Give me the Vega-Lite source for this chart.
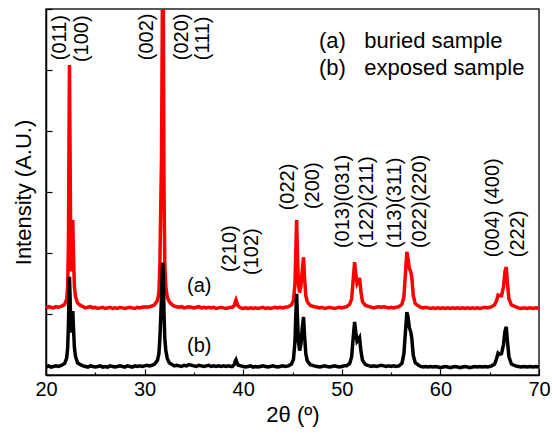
{
  "$schema": "https://vega.github.io/schema/vega-lite/v6.json",
  "width": 493,
  "height": 366,
  "autosize": "none",
  "padding": {"left": 46, "top": 9, "right": 13, "bottom": 62},
  "config": {
    "view": {"stroke": "#222", "strokeWidth": 1.5},
    "font": "Liberation Sans",
    "axis": {"grid": false, "domainColor": "#000", "domainWidth": 1.5, "tickColor": "#000", "tickWidth": 1.2, "labelColor": "#000", "titleColor": "#000", "titleFontWeight": "normal", "labelFont": "Liberation Sans", "titleFont": "Liberation Sans"}
  },
  "datasets": {
    "xrd": [
      {"x": 20.0, "a": 1.10, "b": 0.13}, {"x": 20.25, "a": 1.12, "b": 0.15}, {"x": 20.5, "a": 1.11, "b": 0.13}, {"x": 20.75, "a": 1.10, "b": 0.14}, {"x": 21.0, "a": 1.12, "b": 0.15}, {"x": 21.25, "a": 1.11, "b": 0.14},
      {"x": 21.6, "a": 1.13, "b": 0.16}, {"x": 21.9, "a": 1.16, "b": 0.19}, {"x": 22.1, "a": 1.25, "b": 0.28}, {"x": 22.2, "a": 1.45, "b": 0.45}, {"x": 22.28, "a": 2.2, "b": 0.85}, {"x": 22.33, "a": 3.8, "b": 1.3}, {"x": 22.38, "a": 5.08, "b": 1.61}, {"x": 22.43, "a": 3.9, "b": 1.35}, {"x": 22.5, "a": 2.3, "b": 0.9}, {"x": 22.58, "a": 1.7, "b": 0.7}, {"x": 22.65, "a": 1.8, "b": 0.75}, {"x": 22.72, "a": 2.54, "b": 1.05}, {"x": 22.78, "a": 2.0, "b": 0.8}, {"x": 22.88, "a": 1.45, "b": 0.45}, {"x": 23.0, "a": 1.28, "b": 0.3}, {"x": 23.2, "a": 1.18, "b": 0.2}, {"x": 23.5, "a": 1.14, "b": 0.17},
      {"x": 23.75, "a": 1.12, "b": 0.15}, {"x": 24.0, "a": 1.10, "b": 0.14}, {"x": 24.25, "a": 1.11, "b": 0.13}, {"x": 24.5, "a": 1.12, "b": 0.15}, {"x": 24.75, "a": 1.10, "b": 0.14}, {"x": 25.0, "a": 1.11, "b": 0.13}, {"x": 25.25, "a": 1.09, "b": 0.14}, {"x": 25.5, "a": 1.10, "b": 0.15}, {"x": 25.75, "a": 1.11, "b": 0.13}, {"x": 26.0, "a": 1.09, "b": 0.14}, {"x": 26.25, "a": 1.10, "b": 0.13}, {"x": 26.5, "a": 1.11, "b": 0.15}, {"x": 26.75, "a": 1.09, "b": 0.14}, {"x": 27.0, "a": 1.10, "b": 0.13}, {"x": 27.25, "a": 1.09, "b": 0.14}, {"x": 27.5, "a": 1.11, "b": 0.15}, {"x": 27.75, "a": 1.10, "b": 0.14}, {"x": 28.0, "a": 1.09, "b": 0.13}, {"x": 28.25, "a": 1.10, "b": 0.15}, {"x": 28.5, "a": 1.11, "b": 0.14}, {"x": 28.75, "a": 1.10, "b": 0.13}, {"x": 29.0, "a": 1.09, "b": 0.15}, {"x": 29.25, "a": 1.11, "b": 0.14}, {"x": 29.5, "a": 1.10, "b": 0.15}, {"x": 29.75, "a": 1.11, "b": 0.14}, {"x": 30.0, "a": 1.12, "b": 0.15}, {"x": 30.25, "a": 1.11, "b": 0.16}, {"x": 30.5, "a": 1.12, "b": 0.15}, {"x": 30.75, "a": 1.13, "b": 0.16},
      {"x": 31.0, "a": 1.15, "b": 0.18}, {"x": 31.3, "a": 1.22, "b": 0.24}, {"x": 31.45, "a": 1.35, "b": 0.35}, {"x": 31.55, "a": 1.8, "b": 0.6}, {"x": 31.65, "a": 2.9, "b": 1.0}, {"x": 31.72, "a": 3.6, "b": 1.3}, {"x": 31.8, "a": 6.0, "b": 1.75}, {"x": 31.85, "a": 7.2, "b": 1.84}, {"x": 31.9, "a": 6.0, "b": 1.6}, {"x": 31.97, "a": 3.0, "b": 1.0}, {"x": 32.05, "a": 1.8, "b": 0.6}, {"x": 32.15, "a": 1.45, "b": 0.4}, {"x": 32.3, "a": 1.28, "b": 0.27}, {"x": 32.5, "a": 1.2, "b": 0.2}, {"x": 32.8, "a": 1.15, "b": 0.17},
      {"x": 33.0, "a": 1.13, "b": 0.15}, {"x": 33.25, "a": 1.12, "b": 0.16}, {"x": 33.5, "a": 1.11, "b": 0.15}, {"x": 33.75, "a": 1.12, "b": 0.14}, {"x": 34.0, "a": 1.10, "b": 0.16}, {"x": 34.25, "a": 1.11, "b": 0.15}, {"x": 34.5, "a": 1.12, "b": 0.17}, {"x": 34.75, "a": 1.11, "b": 0.16}, {"x": 35.0, "a": 1.10, "b": 0.15}, {"x": 35.25, "a": 1.11, "b": 0.14}, {"x": 35.5, "a": 1.12, "b": 0.16}, {"x": 35.75, "a": 1.10, "b": 0.15}, {"x": 36.0, "a": 1.11, "b": 0.14}, {"x": 36.25, "a": 1.10, "b": 0.15}, {"x": 36.5, "a": 1.11, "b": 0.16}, {"x": 36.75, "a": 1.10, "b": 0.14}, {"x": 37.0, "a": 1.11, "b": 0.15}, {"x": 37.25, "a": 1.09, "b": 0.14}, {"x": 37.5, "a": 1.10, "b": 0.15}, {"x": 37.75, "a": 1.11, "b": 0.14}, {"x": 38.0, "a": 1.10, "b": 0.15}, {"x": 38.25, "a": 1.09, "b": 0.14}, {"x": 38.5, "a": 1.10, "b": 0.15}, {"x": 38.75, "a": 1.11, "b": 0.14},
      {"x": 38.9, "a": 1.11, "b": 0.14}, {"x": 39.1, "a": 1.14, "b": 0.17}, {"x": 39.2, "a": 1.2, "b": 0.23}, {"x": 39.27, "a": 1.23, "b": 0.25}, {"x": 39.35, "a": 1.19, "b": 0.21}, {"x": 39.5, "a": 1.13, "b": 0.16},
      {"x": 39.75, "a": 1.10, "b": 0.15}, {"x": 40.0, "a": 1.09, "b": 0.14}, {"x": 40.25, "a": 1.10, "b": 0.13}, {"x": 40.5, "a": 1.09, "b": 0.14}, {"x": 40.75, "a": 1.10, "b": 0.15}, {"x": 41.0, "a": 1.09, "b": 0.13}, {"x": 41.25, "a": 1.10, "b": 0.14}, {"x": 41.5, "a": 1.09, "b": 0.13}, {"x": 41.75, "a": 1.10, "b": 0.14}, {"x": 42.0, "a": 1.11, "b": 0.15}, {"x": 42.25, "a": 1.09, "b": 0.14}, {"x": 42.5, "a": 1.10, "b": 0.13}, {"x": 42.75, "a": 1.09, "b": 0.14}, {"x": 43.0, "a": 1.10, "b": 0.15}, {"x": 43.25, "a": 1.11, "b": 0.14}, {"x": 43.5, "a": 1.10, "b": 0.13}, {"x": 43.75, "a": 1.11, "b": 0.14}, {"x": 44.0, "a": 1.10, "b": 0.15}, {"x": 44.25, "a": 1.11, "b": 0.14},
      {"x": 44.6, "a": 1.12, "b": 0.15}, {"x": 44.9, "a": 1.15, "b": 0.18}, {"x": 45.1, "a": 1.22, "b": 0.26}, {"x": 45.25, "a": 1.5, "b": 0.55}, {"x": 45.33, "a": 2.0, "b": 0.95}, {"x": 45.42, "a": 2.54, "b": 1.33}, {"x": 45.5, "a": 2.0, "b": 0.95}, {"x": 45.6, "a": 1.5, "b": 0.55}, {"x": 45.72, "a": 1.35, "b": 0.4}, {"x": 45.85, "a": 1.45, "b": 0.5}, {"x": 45.98, "a": 1.7, "b": 0.75}, {"x": 46.12, "a": 1.93, "b": 0.95}, {"x": 46.22, "a": 1.6, "b": 0.65}, {"x": 46.35, "a": 1.3, "b": 0.35}, {"x": 46.5, "a": 1.2, "b": 0.23}, {"x": 46.8, "a": 1.14, "b": 0.17}, {"x": 47.2, "a": 1.12, "b": 0.15},
      {"x": 47.5, "a": 1.11, "b": 0.14}, {"x": 47.75, "a": 1.10, "b": 0.13}, {"x": 48.0, "a": 1.11, "b": 0.14}, {"x": 48.25, "a": 1.09, "b": 0.15}, {"x": 48.5, "a": 1.10, "b": 0.14}, {"x": 48.75, "a": 1.11, "b": 0.13}, {"x": 49.0, "a": 1.10, "b": 0.14}, {"x": 49.25, "a": 1.09, "b": 0.15}, {"x": 49.5, "a": 1.10, "b": 0.14}, {"x": 49.75, "a": 1.11, "b": 0.13}, {"x": 50.0, "a": 1.10, "b": 0.14}, {"x": 50.25, "a": 1.11, "b": 0.15},
      {"x": 50.5, "a": 1.12, "b": 0.15}, {"x": 50.8, "a": 1.16, "b": 0.19}, {"x": 51.0, "a": 1.25, "b": 0.3}, {"x": 51.15, "a": 1.55, "b": 0.6}, {"x": 51.3, "a": 1.85, "b": 0.87}, {"x": 51.42, "a": 1.65, "b": 0.7}, {"x": 51.55, "a": 1.5, "b": 0.55}, {"x": 51.7, "a": 1.55, "b": 0.58}, {"x": 51.8, "a": 1.59, "b": 0.61}, {"x": 51.95, "a": 1.35, "b": 0.38}, {"x": 52.1, "a": 1.2, "b": 0.24}, {"x": 52.4, "a": 1.14, "b": 0.17}, {"x": 52.8, "a": 1.12, "b": 0.15},
      {"x": 53.0, "a": 1.11, "b": 0.14}, {"x": 53.25, "a": 1.10, "b": 0.15}, {"x": 53.5, "a": 1.11, "b": 0.14}, {"x": 53.75, "a": 1.12, "b": 0.15}, {"x": 54.0, "a": 1.11, "b": 0.16}, {"x": 54.25, "a": 1.12, "b": 0.15}, {"x": 54.5, "a": 1.11, "b": 0.14}, {"x": 54.75, "a": 1.10, "b": 0.15}, {"x": 55.0, "a": 1.11, "b": 0.14}, {"x": 55.25, "a": 1.10, "b": 0.15}, {"x": 55.5, "a": 1.11, "b": 0.14},
      {"x": 55.8, "a": 1.12, "b": 0.15}, {"x": 56.1, "a": 1.16, "b": 0.19}, {"x": 56.3, "a": 1.28, "b": 0.35}, {"x": 56.45, "a": 1.65, "b": 0.7}, {"x": 56.6, "a": 2.02, "b": 1.03}, {"x": 56.72, "a": 1.9, "b": 0.95}, {"x": 56.85, "a": 1.75, "b": 0.78}, {"x": 57.0, "a": 1.69, "b": 0.7}, {"x": 57.1, "a": 1.6, "b": 0.6}, {"x": 57.25, "a": 1.3, "b": 0.32}, {"x": 57.45, "a": 1.17, "b": 0.2}, {"x": 57.8, "a": 1.13, "b": 0.16},
      {"x": 58.0, "a": 1.11, "b": 0.14}, {"x": 58.25, "a": 1.10, "b": 0.13}, {"x": 58.5, "a": 1.11, "b": 0.14}, {"x": 58.75, "a": 1.10, "b": 0.13}, {"x": 59.0, "a": 1.09, "b": 0.14}, {"x": 59.25, "a": 1.10, "b": 0.13}, {"x": 59.5, "a": 1.09, "b": 0.14}, {"x": 59.75, "a": 1.10, "b": 0.13}, {"x": 60.0, "a": 1.09, "b": 0.12}, {"x": 60.25, "a": 1.10, "b": 0.13}, {"x": 60.5, "a": 1.09, "b": 0.14}, {"x": 60.75, "a": 1.10, "b": 0.13}, {"x": 61.0, "a": 1.09, "b": 0.12}, {"x": 61.25, "a": 1.10, "b": 0.13}, {"x": 61.5, "a": 1.09, "b": 0.14}, {"x": 61.75, "a": 1.10, "b": 0.13}, {"x": 62.0, "a": 1.09, "b": 0.12}, {"x": 62.25, "a": 1.10, "b": 0.13}, {"x": 62.5, "a": 1.09, "b": 0.14}, {"x": 62.75, "a": 1.10, "b": 0.13}, {"x": 63.0, "a": 1.09, "b": 0.12}, {"x": 63.25, "a": 1.10, "b": 0.13}, {"x": 63.5, "a": 1.09, "b": 0.14}, {"x": 63.75, "a": 1.10, "b": 0.13}, {"x": 64.0, "a": 1.09, "b": 0.14}, {"x": 64.25, "a": 1.10, "b": 0.13}, {"x": 64.5, "a": 1.11, "b": 0.14}, {"x": 64.75, "a": 1.10, "b": 0.13}, {"x": 65.0, "a": 1.11, "b": 0.14},
      {"x": 65.2, "a": 1.12, "b": 0.15}, {"x": 65.5, "a": 1.15, "b": 0.18}, {"x": 65.7, "a": 1.22, "b": 0.27}, {"x": 65.85, "a": 1.31, "b": 0.36}, {"x": 66.0, "a": 1.3, "b": 0.34}, {"x": 66.2, "a": 1.3, "b": 0.35}, {"x": 66.4, "a": 1.45, "b": 0.5}, {"x": 66.55, "a": 1.7, "b": 0.72}, {"x": 66.68, "a": 1.77, "b": 0.79}, {"x": 66.8, "a": 1.5, "b": 0.55}, {"x": 66.95, "a": 1.25, "b": 0.3}, {"x": 67.2, "a": 1.15, "b": 0.18}, {"x": 67.6, "a": 1.12, "b": 0.15},
      {"x": 67.9, "a": 1.10, "b": 0.14}, {"x": 68.2, "a": 1.09, "b": 0.13}, {"x": 68.5, "a": 1.10, "b": 0.14}, {"x": 68.8, "a": 1.09, "b": 0.13}, {"x": 69.1, "a": 1.10, "b": 0.14}, {"x": 69.4, "a": 1.09, "b": 0.13}, {"x": 69.7, "a": 1.10, "b": 0.14}, {"x": 70.0, "a": 1.09, "b": 0.13}
    ],
    "hkl": [
      {"x": 21.42, "y": 5.16, "label": "(011)"},
      {"x": 23.65, "y": 5.13, "label": "(100)"},
      {"x": 30.24, "y": 5.16, "label": "(002)"},
      {"x": 33.79, "y": 5.16, "label": "(020)"},
      {"x": 35.92, "y": 5.16, "label": "(111)"},
      {"x": 38.66, "y": 1.69, "label": "(210)"},
      {"x": 40.89, "y": 1.64, "label": "(102)"},
      {"x": 44.54, "y": 2.70, "label": "(022)"},
      {"x": 47.08, "y": 2.72, "label": "(200)"},
      {"x": 50.12, "y": 2.08, "label": "(013)(031)"},
      {"x": 52.56, "y": 2.08, "label": "(122)(211)"},
      {"x": 55.40, "y": 2.08, "label": "(113)(311)"},
      {"x": 57.93, "y": 2.08, "label": "(022)(220)"},
      {"x": 65.33, "y": 1.93, "label": "(004) (400)"},
      {"x": 67.87, "y": 1.93, "label": "(222)"}
    ],
    "legend": [
      {"x": 47.69, "y": 5.36, "label": "(a)\u00a0\u00a0 buried sample"},
      {"x": 47.69, "y": 4.92, "label": "(b)\u00a0\u00a0 exposed sample"}
    ],
    "tags": [
      {"x": 34.30, "y": 1.36, "label": "(a)"},
      {"x": 34.30, "y": 0.377, "label": "(b)"}
    ]
  },
  "layer": [
    {
      "data": {"name": "xrd"},
      "mark": {"type": "line", "color": "#ff0000", "strokeWidth": 3.5, "clip": true},
      "encoding": {
        "x": {"field": "x", "type": "quantitative", "scale": {"domain": [20, 70], "nice": false, "zero": false},
              "axis": {"title": "2θ (º)", "titleFontSize": 22, "titlePadding": 2, "values": [20, 25, 30, 35, 40, 45, 50, 55, 60, 65, 70], "labelExpr": "datum.value % 10 === 0 ? datum.label : ''", "labelFontSize": 20, "labelFlush": false, "labelOverlap": false, "labelPadding": 10, "tickSize": {"condition": {"test": "datum.value % 10 === 0", "value": -6}, "value": -3}}},
        "y": {"field": "a", "type": "quantitative", "scale": {"domain": [0, 6], "nice": false, "zero": false},
              "axis": {"title": "Intensity (A.U.)", "titleFontSize": 22, "titlePadding": 10, "values": [0, 1, 2, 3, 4, 5, 6], "labels": false, "tickSize": -6}}
      }
    },
    {
      "data": {"name": "xrd"},
      "mark": {"type": "line", "color": "#000000", "strokeWidth": 3.5, "clip": true},
      "encoding": {
        "x": {"field": "x", "type": "quantitative"},
        "y": {"field": "b", "type": "quantitative"}
      }
    },
    {
      "data": {"name": "hkl"},
      "mark": {"type": "text", "angle": 270, "align": "left", "baseline": "middle", "fontSize": 20, "color": "#000"},
      "encoding": {
        "x": {"field": "x", "type": "quantitative"},
        "y": {"field": "y", "type": "quantitative"},
        "text": {"field": "label"}
      }
    },
    {
      "data": {"name": "legend"},
      "mark": {"type": "text", "align": "left", "baseline": "alphabetic", "fontSize": 22, "color": "#000"},
      "encoding": {
        "x": {"field": "x", "type": "quantitative"},
        "y": {"field": "y", "type": "quantitative"},
        "text": {"field": "label"}
      }
    },
    {
      "data": {"name": "tags"},
      "mark": {"type": "text", "align": "left", "baseline": "alphabetic", "fontSize": 20, "color": "#000"},
      "encoding": {
        "x": {"field": "x", "type": "quantitative"},
        "y": {"field": "y", "type": "quantitative"},
        "text": {"field": "label"}
      }
    }
  ]
}
